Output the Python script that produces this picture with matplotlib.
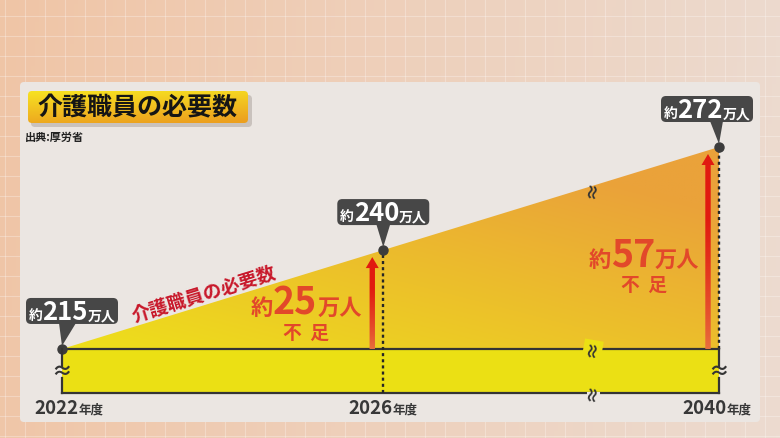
import numpy as np
import matplotlib.pyplot as plt
from matplotlib.patches import Polygon, FancyBboxPatch

plt.rcParams['font.family'] = ['Noto Sans CJK JP', 'DejaVu Sans']

# data (万人)
years = [2022, 2026, 2040]
year_labels = ['2022', '2026', '2040']
workers = [215, 240, 272]
shortage_years = [2026, 2040]
shortage = [25, 57]
title = '介護職員の必要数'
source = '出典:厚労省'
curve_label = '介護職員の必要数'

W, H = 780, 438
DARK = '#343434'
YELLOW = '#ebe014'
RED_TXT = '#e2482a'

fig = plt.figure(figsize=(W / 100, H / 100), dpi=100)


def pixel_axes(z):
    a = fig.add_axes([0, 0, 1, 1], zorder=z)
    a.set_xlim(0, W)
    a.set_ylim(H, 0)
    a.axis('off')
    a.patch.set_alpha(0)
    return a


def gradient(c0, c1, t):
    c0 = np.array(c0) / 255
    c1 = np.array(c1) / 255
    return c0 * (1 - t[..., None]) + c1 * t[..., None]


bg = pixel_axes(0)

# peach background with a light grid
gx = np.linspace(0, 1, 200)[None, :]
gy = np.linspace(0, 1, 120)[:, None]
bg.imshow(gradient((240, 197, 166), (236, 219, 208), np.clip(gx * 0.95 + gy * 0.05, 0, 1)),
          extent=(0, W, H, 0), aspect='auto', zorder=0)
for x in np.arange(5, W, 20):
    bg.axvline(x, color='white', alpha=0.28, lw=0.8, zorder=1)
for y in np.arange(16, H, 20):
    bg.axhline(y, color='white', alpha=0.28, lw=0.8, zorder=1)

# light panel
bg.add_patch(FancyBboxPatch((20, 82), 740, 340, boxstyle='round,pad=0,rounding_size=4',
                            fc='#ebe6e2', ec='none', zorder=2))

# title box with shadow
bg.add_patch(FancyBboxPatch((31, 95), 221, 32, boxstyle='round,pad=0,rounding_size=4',
                            fc='#8a7f78', ec='none', alpha=0.35, zorder=3))
tbox = FancyBboxPatch((28, 91), 220, 32, boxstyle='round,pad=0,rounding_size=4',
                      fc='none', ec='none', zorder=3)
bg.add_patch(tbox)
ty = np.linspace(0, 1, 40)[:, None] * np.ones((1, 100))
tx = np.ones((40, 1)) * np.linspace(0, 1, 100)[None, :]
im = bg.imshow(gradient((247, 226, 34), (236, 160, 30), np.clip(ty * 0.85 + tx * 0.2, 0, 1)),
               extent=(28, 248, 123, 91), aspect='auto', zorder=4)
im.set_clip_path(tbox)
bg.text(37, 108, title, fontsize=18, weight='bold', color='#151515', va='center', ha='left', zorder=5)
bg.text(25, 137, source, fontsize=8, weight='bold', color='#222222', va='center', ha='left', zorder=5)

# data axes with broken (schematic) scales
ax = fig.add_axes([62 / W, 45 / H, 657 / W, 246 / H], zorder=1)
x_pos = [0, 0.489, 1]
y_vals = [0] + workers
y_pos = [0, 0.179, 0.581, 1]
ax.set_xscale('function', functions=(lambda v: np.interp(v, years, x_pos),
                                     lambda p: np.interp(p, x_pos, years)))
ax.set_yscale('function', functions=(lambda v: np.interp(v, y_vals, y_pos),
                                     lambda p: np.interp(p, y_pos, y_vals)))
ax.set_xlim(years[0], years[-1])
ax.set_ylim(0, workers[-1])
ax.axis('off')
ax.patch.set_alpha(0)

ax.fill_between([years[0], years[-1]], 0, workers[0], color=YELLOW, lw=0, zorder=1)
tri = Polygon(list(zip(years, workers)) + [(years[-1], workers[0])], closed=True,
              fc='none', ec='none')
ax.add_patch(tri)
ax.plot([years[0], years[-1]], [workers[0], workers[0]], color=DARK, lw=1.6, zorder=3, clip_on=False)
ax.plot([years[0], years[-1]], [0, 0], color=DARK, lw=1.6, zorder=3, clip_on=False)
ax.plot([years[1], years[1]], [0, workers[1]], color='#262626', lw=1.7, ls=(0, (1.3, 1.3)),
        zorder=3, clip_on=False)
ax.plot([years[2], years[2]], [workers[0], workers[2]], color='#262626', lw=1.7, ls=(0, (1.3, 1.3)),
        zorder=3, clip_on=False)
ax.plot(years, workers, 'o', ms=6.5, color='#3c3c3c', zorder=6, clip_on=False)


def P(x, y):
    dx, dy = ax.transData.transform((x, y))
    return dx, H - dy


# gradient inside the growth triangle
x0, yb = P(years[0], workers[0])
x1, yt = P(years[-1], workers[-1])
uu = np.ones((100, 1)) * np.linspace(0, 1, 200)[None, :]
ww = np.linspace(0, 1, 100)[:, None] * np.ones((1, 200))
im = bg.imshow(gradient((238, 224, 26), (234, 162, 58), np.clip(0.55 * uu + 0.65 * ww, 0, 1)),
               extent=(x0, x1, yb, yt), origin='lower', aspect='auto', zorder=6)
im.set_clip_path(tri)
bg.set_xlim(0, W)
bg.set_ylim(H, 0)

ov = pixel_axes(3)
rend = fig.canvas.get_renderer()


def rich(x, y, parts, color, **kw):
    ts = [ov.text(0, y, s, fontsize=fs, color=color, weight='bold', va='baseline', ha='left',
                  zorder=8, **kw) for s, fs in parts]
    ws = [t.get_window_extent(rend).width for t in ts]
    cur = x - sum(ws) / 2
    for t, w in zip(ts, ws):
        t.set_x(cur)
        cur += w


# rectangle side edges with break marks
_, ybot = P(years[0], 0)
for yr in (years[0], years[-1]):
    ex, etop = P(yr, workers[0])
    ym = (etop + ybot) / 2 + 1
    ov.plot([ex, ex], [ybot, ym + 6], color=DARK, lw=1.6, zorder=5)
    ov.plot([ex, ex], [ym - 6, etop], color=DARK, lw=1.6, zorder=5)
    ov.text(ex, ym, '≈', fontsize=15, weight='bold', color=DARK, ha='center', va='center', zorder=6)

# x-axis break marks
xb = x0 + 0.808 * (x1 - x0)
ov.text(xb, yb, '≈', fontsize=13, weight='bold', color=DARK, ha='center', va='center', rotation=80,
        zorder=6, bbox=dict(boxstyle='square,pad=0.0', fc=YELLOW, ec='none'))
ov.plot([xb - 5, xb + 5], [ybot, ybot], color='#ebe6e2', lw=2.2, zorder=5)
ov.text(xb, ybot, '≈', fontsize=13, weight='bold', color=DARK, ha='center', va='center',
        rotation=80, zorder=6)
ov.text(xb, yb + (yt - yb) * (xb - x0) / (x1 - x0) + 4, '≈', fontsize=13, weight='bold', color=DARK,
        ha='center', va='center', rotation=80, zorder=6)

# label along the slope
ang = np.degrees(np.arctan2(yb - yt, x1 - x0))
lx = x0 + 142
ov.text(lx, yb + (yt - yb) * (lx - x0) / (x1 - x0) - 11, curve_label, fontsize=13.5, weight='bold',
        color='#c8182a', rotation=ang, rotation_mode='anchor', ha='center', va='center', zorder=7)

# shortage arrows and labels
label_off = [(-66, -34), (-64, -82)]
for yr, s, (ox, oy) in zip(shortage_years, shortage, label_off):
    ax_, ybase = P(yr, workers[0])
    _, ypt = P(yr, workers[years.index(yr)])
    xa = ax_ - 11
    ytip = ypt + 7
    hl = 11
    arrow = Polygon([(xa - 2.7, ybase), (xa - 2.7, ytip + hl), (xa - 6.5, ytip + hl), (xa, ytip),
                     (xa + 6.5, ytip + hl), (xa + 2.7, ytip + hl), (xa + 2.7, ybase)],
                    closed=True, fc='none', ec='none')
    ov.add_patch(arrow)
    t = np.linspace(0, 1, 100)[:, None] * np.ones((1, 4))
    im = ov.imshow(gradient((232, 112, 62), (225, 26, 16), np.clip(t * 1.5, 0, 1) ** 0.8),
                   extent=(xa - 7, xa + 7, ybase, ytip), origin='lower', aspect='auto', zorder=5)
    im.set_clip_path(arrow)
    rich(xa + ox, ybase + oy, [('約', 16), (str(s), 27), ('万人', 16)], RED_TXT)
    ov.text(xa + ox, ybase + oy + 18, '不  足', fontsize=13.5, weight='bold', color=RED_TXT,
            ha='center', va='center', zorder=8)

# value call-outs
box_dx = [10, 0, -12]
ptr = [(-3, 14), (-7, 7), (-9, 4)]
for yr, v, dx, (pl, pr) in zip(years, workers, box_dx, ptr):
    px, py = P(yr, v)
    cx = px + dx
    bot = py - 25
    ov.add_patch(FancyBboxPatch((cx - 46, bot - 26), 92, 26, boxstyle='round,pad=0,rounding_size=5',
                                fc='#474747', ec='none', zorder=6))
    ov.add_patch(Polygon([(px + pl, bot - 1), (px + pr, bot - 1), (px, py - 3)], closed=True,
                         fc='#474747', ec='none', zorder=6))
    rich(cx, bot - 4, [('約', 10), (str(v), 18.5), ('万人', 10)], 'white')

# year labels
year_dx = [7, 0, -2]
for yr, lab, dx in zip(years, year_labels, year_dx):
    px, _ = P(yr, 0)
    rich(px + dx, 414, [(lab, 13.5), ('年度', 9)], '#383838')

ov.set_xlim(0, W)
ov.set_ylim(H, 0)
fig.savefig('out.png', dpi=100)
